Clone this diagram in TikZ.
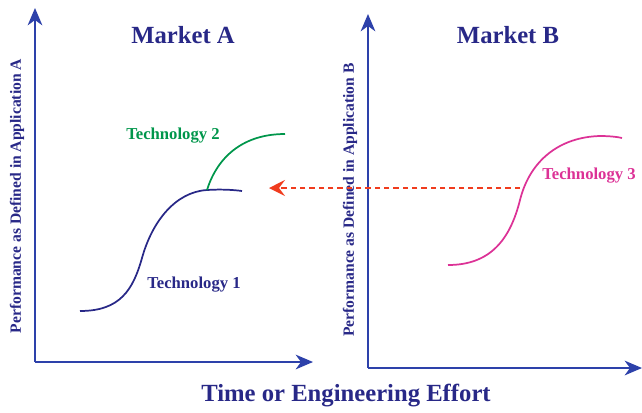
\documentclass[tikz,border=0pt]{standalone}
\usepackage{fontspec}
\setmainfont{Liberation Serif}
\usetikzlibrary{arrows.meta,positioning}
\definecolor{axisblue}{RGB}{45,65,170}
\definecolor{navy}{RGB}{40,40,135}
\definecolor{techgreen}{RGB}{0,150,75}
\definecolor{techpink}{RGB}{220,50,150}
\definecolor{shiftred}{RGB}{240,60,30}

\begin{document}
\begin{tikzpicture}[x=0.75pt, y=-0.75pt]
		\useasboundingbox (0,0) rectangle (642,412);
		\tikzset{axis/.style={axisblue, line width=1.5pt, -{Stealth[length=13pt, width=11pt, inset=4pt]}},
			curve/.style={line width=1.3pt},
			lbl/.style={font=\bfseries\fontsize{12.5}{14}\selectfont}}
		% axes of market A and market B
		\coordinate (oA) at (35,362);
		\coordinate (oB) at (368,368);
		\draw[axis] (oA) -- (35,8);
		\draw[axis] (oA) -- (313,362);
		\draw[axis] (oB) -- (368,14);
		\draw[axis] (oB) -- (642,368);
		% titles
		\begin{scope}[every node/.style={navy, font=\bfseries\fontsize{18.5}{21}\selectfont}]
			\node (mA) at (183,35) {Market A};
			\node (mB) at (508,35) {Market B};
			\node (time) at (346,396) {Time or Engineering Effort};
		\end{scope}
		\begin{scope}[every node/.style={navy, rotate=90, font=\bfseries\fontsize{11.7}{13}\selectfont}]
			\node (perfA) at (17,196) {Performance as Defined in Application A};
			\node (perfB) at (350,200) {Performance as Defined in Application B};
		\end{scope}
		% s-curves
		\coordinate (top1) at (207,190);
		\draw[curve, navy] (80,311) .. controls (120,311) and (133,290) .. (142,258)
			.. controls (152,222) and (175,192) .. (top1)
			.. controls (222,189) and (235,190) .. (242,191);
		\draw[curve, techgreen] (top1) .. controls (218,155) and (245,134) .. (285,134);
		\coordinate (mid3) at (520,188);
		\draw[curve, techpink] (448,265) .. controls (490,265) and (510,240) .. (520,200)
			.. controls (530,160) and (560,137) .. (600,136)
			.. controls (610,136) and (618,137) .. (622,138);
		% shift from market B to market A
		\coordinate (tip) at (269,188);
		\draw[shiftred, line width=1.2pt, dash pattern=on 4pt off 3pt,
			-{Stealth[length=12pt, width=12pt, inset=4.5pt]}] (mid3) -- (tip);
		\node[lbl, techgreen] (t2) at (173,136) {Technology 2};
		\node[lbl, navy] (t1) at (194,285) {Technology 1};
		\node[lbl, techpink] (t3) at (589,176) {Technology 3};
	\end{tikzpicture}
\end{document}
